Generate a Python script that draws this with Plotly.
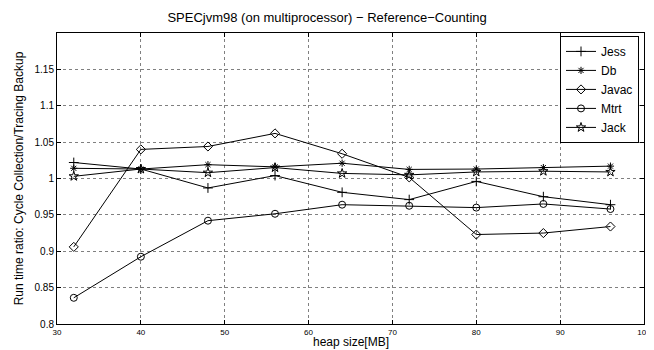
import plotly.graph_objects as go

heap = [32, 40, 48, 56, 64, 72, 80, 88, 96]
jess = [1.022, 1.013, 0.987, 1.004, 0.981, 0.971, 0.996, 0.975, 0.964]
db = [1.014, 1.013, 1.019, 1.016, 1.021, 1.0125, 1.013, 1.015, 1.017]
javac = [0.906, 1.040, 1.044, 1.062, 1.034, 1.0015, 0.923, 0.925, 0.934]
mtrt = [0.836, 0.8925, 0.942, 0.9515, 0.964, 0.9625, 0.960, 0.965, 0.958]
jack = [1.003, 1.013, 1.008, 1.015, 1.007, 1.005, 1.009, 1.010, 1.009]

x_ticks = [30, 40, 50, 60, 70, 80, 90, 100]
y_ticks = [0.8, 0.85, 0.9, 0.95, 1.0, 1.05, 1.1, 1.15]
y_labels = ["0.8", "0.85", "0.9", "0.95", "1", "1.05", "1.1", "1.15"]

series = [
    ("Jess", jess, "cross-thin-open", 7),
    ("Db", db, "asterisk-open", 6),
    ("Javac", javac, "diamond-open", 7),
    ("Mtrt", mtrt, "circle-open", 7),
    ("Jack", jack, "star-open", 7),
]

fig = go.Figure()
for name, ys, sym, sz in series:
    fig.add_trace(go.Scatter(
        x=heap, y=ys, name=name, mode="lines+markers",
        line=dict(color="black", width=1),
        marker=dict(symbol=sym, size=sz, color="black",
                    line=dict(color="black", width=1)),
    ))

font = "Liberation Sans, Arial, Helvetica, sans-serif"
# page body has an 8px margin, so the figure is sized to fill the rest
fig.update_layout(
    width=646, height=342,
    margin=dict(l=49, r=10, t=25, b=26, autoexpand=False),
    paper_bgcolor="white", plot_bgcolor="white",
    font=dict(family=font, color="black", size=10),
    title=dict(text="SPECjvm98 (on multiprocessor) \u2212 Reference\u2212Counting",
               xref="container", x=0.494, xanchor="center",
               yref="container", y=0.971, yanchor="middle",
               font=dict(size=13, family=font, color="black")),
    showlegend=True,
    legend=dict(x=0.9915, y=0.99, xanchor="right", yanchor="top",
                bgcolor="white", bordercolor="black", borderwidth=1,
                font=dict(size=12, family=font, color="black"),
                tracegroupgap=0, itemwidth=30),
    annotations=[dict(text="heap size[MB]", xref="paper", yref="paper",
                      x=0.5, y=-0.061, xanchor="center", yanchor="middle",
                      showarrow=False, font=dict(size=12, family=font, color="black"))],
)
fig.update_xaxes(
    range=[30, 100], tickvals=x_ticks, ticktext=[str(v) for v in x_ticks],
    ticks="inside", ticklen=4, tickcolor="black", mirror="ticks",
    showline=True, linecolor="black", linewidth=1,
    showgrid=True, gridcolor="#808080", griddash="dot", gridwidth=0.6,
    zeroline=False, tickfont=dict(size=8), automargin=False,
)
fig.update_yaxes(
    range=[0.8, 1.2], tickvals=y_ticks, ticktext=y_labels,
    ticks="inside", ticklen=4, tickcolor="black", mirror="ticks",
    showline=True, linecolor="black", linewidth=1,
    showgrid=True, gridcolor="#808080", griddash="dot", gridwidth=0.6,
    zeroline=False, tickfont=dict(size=10), automargin=False,
    title=dict(text="Run time ratio: Cycle Collection/Tracing Backup",
               font=dict(size=12), standoff=8),
)
fig.write_html("out.html")
